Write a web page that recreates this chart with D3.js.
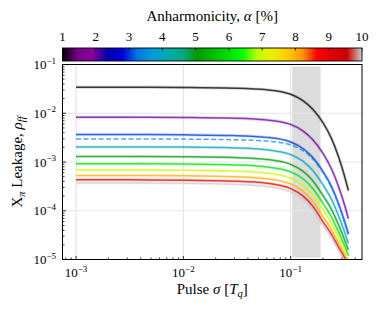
<!DOCTYPE html>
<html><head><meta charset="utf-8">
<script src="https://cdn.jsdelivr.net/npm/d3@7"></script>
<style>
body{margin:0;background:#fff}
svg{display:block}
text{font-family:"Liberation Serif","DejaVu Serif",serif;fill:#000}
</style>
</head><body>
<script>
// ---------------- data ----------------
const sigma   = [0.001, 0.003, 0.01, 0.03, 0.06, 0.1, 0.13, 0.16, 0.2, 0.24, 0.28, 0.32, 0.345];
const alpha1  = [3.43e-2, 3.43e-2, 3.39e-2, 3.27e-2, 3.02e-2, 2.45e-2, 1.82e-2, 1.22e-2, 6.43e-3, 3.05e-3, 1.26e-3, 4.86e-4, 2.60e-4];
const alpha2  = [8.30e-3, 8.30e-3, 8.20e-3, 7.91e-3, 7.29e-3, 5.90e-3, 4.34e-3, 2.90e-3, 1.51e-3, 7.28e-4, 3.10e-4, 1.25e-4, 6.90e-5];
const alpha3  = [3.66e-3, 3.66e-3, 3.61e-3, 3.48e-3, 3.20e-3, 2.58e-3, 1.89e-3, 1.25e-3, 6.43e-4, 3.16e-4, 1.38e-4, 5.82e-5, 3.33e-5];
const measured= [2.98e-3, 2.98e-3, 2.95e-3, 2.86e-3, 2.69e-3, 2.24e-3, 1.71e-3, 1.16e-3, 6.07e-4, 3.01e-4, 1.33e-4, 5.66e-5, 3.26e-5];
const alpha4  = [2.04e-3, 2.04e-3, 2.02e-3, 1.94e-3, 1.78e-3, 1.42e-3, 1.04e-3, 6.78e-4, 3.42e-4, 1.72e-4, 7.83e-5, 3.54e-5, 2.14e-5];
const alpha5  = [1.30e-3, 1.30e-3, 1.28e-3, 1.23e-3, 1.13e-3, 8.94e-4, 6.48e-4, 4.19e-4, 2.07e-4, 1.07e-4, 5.08e-5, 2.46e-5, 1.56e-5];
const alpha6  = [9.20e-4, 9.20e-4, 9.09e-4, 8.71e-4, 7.94e-4, 6.28e-4, 4.53e-4, 2.90e-4, 1.42e-4, 7.45e-5, 3.64e-5, 1.85e-5, 1.21e-5];
const alpha7  = [6.90e-4, 6.90e-4, 6.81e-4, 6.52e-4, 5.94e-4, 4.67e-4, 3.35e-4, 2.13e-4, 1.03e-4, 5.50e-5, 2.76e-5, 1.47e-5, 9.98e-6];
const alpha8  = [5.30e-4, 5.30e-4, 5.23e-4, 4.99e-4, 4.54e-4, 3.56e-4, 2.54e-4, 1.60e-4, 7.67e-5, 4.15e-5, 2.14e-5, 1.19e-5, 8.39e-6];
const alpha9  = [4.30e-4, 4.30e-4, 4.24e-4, 4.04e-4, 3.66e-4, 2.85e-4, 2.02e-4, 1.26e-4, 5.93e-5, 3.28e-5, 1.77e-5, 1.05e-5, 7.82e-6];
const alpha10 = [3.70e-4, 3.70e-4, 3.65e-4, 3.48e-4, 3.15e-4, 2.44e-4, 1.73e-4, 1.07e-4, 5.02e-5, 2.81e-5, 1.53e-5, 9.33e-6, 7.05e-6];

const seriesAlpha  = [1, 2, 3, 3.6, 4, 5, 6, 7, 8, 9, 10];
const seriesValues = [alpha1, alpha2, alpha3, measured, alpha4, alpha5, alpha6, alpha7, alpha8, alpha9, alpha10];
const seriesDashed = [false, false, false, true, false, false, false, false, false, false, false];

const bandSigma   = [0.1035, 0.19];
const xTickExp    = [-3, -2, -1];
const yTickExp    = [-5, -4, -3, -2, -1];
const cbarTicks   = [1, 2, 3, 4, 5, 6, 7, 8, 9, 10];

// nipy_spectral colormap nodes
const cmapColors = ["#000000","#770088","#880099","#0000aa","#0000dd","#0077dd","#0099dd","#00aaaa",
  "#00aa88","#009900","#00bb00","#00dd00","#00ff00","#bbff00","#eeee00","#ffcc00","#ff9900",
  "#ff0000","#dd0000","#cc0000","#cccccc"];

// ---------------- layout ----------------
const W = 380, H = 309;
const L = 62.5, R = 362, T = 64.5, B = 259.5;
const svg = d3.select("body").append("svg").attr("width", W).attr("height", H);

const x = d3.scaleLog().domain([7.47e-4, 0.4624]).range([L, R]);
const y = d3.scaleLog().domain([1e-5, 1e-1]).range([B, T]);
const cmapPos = cmapColors.map((c, i) => 1 + 9 * i / (cmapColors.length - 1));
const color = d3.scaleLinear().domain(cmapPos).range(cmapColors).interpolate(d3.interpolateRgb);

// band
const bh = B - T;
svg.append("rect")
  .attr("x", x(bandSigma[0])).attr("width", x(bandSigma[1]) - x(bandSigma[0]))
  .attr("y", T + 0.01 * bh).attr("height", 0.98 * bh)
  .attr("fill", "#dcdcdc");

// grid
const g = svg.append("g");
xTickExp.forEach(e => g.append("line").attr("x1", x(10 ** e)).attr("x2", x(10 ** e)).attr("y1", T).attr("y2", B)
  .attr("stroke", "#e6e6e6").attr("stroke-width", 1.2));
yTickExp.forEach(e => g.append("line").attr("y1", y(10 ** e)).attr("y2", y(10 ** e)).attr("x1", L).attr("x2", R)
  .attr("stroke", "#e6e6e6").attr("stroke-width", 1.2));

// clip
svg.append("clipPath").attr("id", "clip").append("rect").attr("x", L).attr("y", T).attr("width", R - L).attr("height", B - T);

const line = d3.line().x((d, i) => x(sigma[i])).y(d => y(d)).curve(d3.curveMonotoneX);
const lines = svg.append("g").attr("clip-path", "url(#clip)");
seriesValues.forEach((vals, k) => {
  const c = color(seriesAlpha[k]);
  if (!seriesDashed[k]) {
    lines.append("path").attr("d", line(vals)).attr("fill", "none").attr("stroke", c)
      .attr("stroke-width", 3.2).attr("stroke-opacity", 0.16);
  }
  lines.append("path").attr("d", line(vals)).attr("fill", "none").attr("stroke", c)
    .attr("stroke-width", 1.5).attr("stroke-opacity", 0.74)
    .attr("stroke-dasharray", seriesDashed[k] ? "5,2.5" : null);
});

// frame
svg.append("rect").attr("x", L).attr("y", T).attr("width", R - L).attr("height", B - T)
  .attr("fill", "none").attr("stroke", "#000").attr("stroke-width", 1);

// ticks (inside)
const tk = svg.append("g").attr("stroke", "#000").attr("stroke-width", 0.8);
for (let e = -4; e <= -1; e++) {
  for (let m = 1; m <= 9; m++) {
    const v = m * 10 ** e;
    if (v < 7.47e-4 || v > 0.4624) continue;
    const len = m === 1 ? 3.5 : 2;
    tk.append("line").attr("x1", x(v)).attr("x2", x(v)).attr("y1", B).attr("y2", B - len);
  }
}
for (let e = -5; e <= -1; e++) {
  for (let m = 1; m <= 9; m++) {
    const v = m * 10 ** e;
    if (v > 0.1 + 1e-12) continue;
    const len = m === 1 ? 3.5 : 2;
    tk.append("line").attr("y1", y(v)).attr("y2", y(v)).attr("x1", L).attr("x2", L + len);
  }
}

// tick labels
xTickExp.forEach(e => {
  const t = svg.append("text").attr("x", x(10 ** e)).attr("y", 277).attr("text-anchor", "middle").attr("font-size", 13);
  t.append("tspan").text("10");
  t.append("tspan").attr("dy", -5.5).attr("font-size", 9).text("\u2212" + (-e));
});
yTickExp.forEach(e => {
  const t = svg.append("text").attr("x", 56).attr("y", y(10 ** e) + 4.5).attr("text-anchor", "end").attr("font-size", 13);
  t.append("tspan").text("10");
  t.append("tspan").attr("dy", -5.5).attr("font-size", 9).text("\u2212" + (-e));
});

// axis labels
const xl = svg.append("text").attr("x", (L + R) / 2).attr("y", 294).attr("text-anchor", "middle").attr("font-size", 15);
xl.append("tspan").text("Pulse ");
xl.append("tspan").attr("font-style", "italic").text("\u03C3");
xl.append("tspan").text(" [");
xl.append("tspan").attr("font-style", "italic").text("T");
xl.append("tspan").attr("font-style", "italic").attr("font-size", 10.5).attr("dy", 3).text("q");
xl.append("tspan").attr("dy", -3).text("]");

const yl = svg.append("text").attr("transform", `translate(22,${(T + B) / 2}) rotate(-90)`)
  .attr("text-anchor", "middle").attr("font-size", 15);
yl.append("tspan").text("X");
yl.append("tspan").attr("font-style", "italic").attr("font-size", 10.5).attr("dy", 3).text("\u03C0");
yl.append("tspan").attr("dy", -3).text(" Leakage, ");
yl.append("tspan").attr("font-style", "italic").text("\u03C1");
yl.append("tspan").attr("font-style", "italic").attr("font-size", 10.5).attr("dy", 3).text("ff");

// colorbar
const cb = { x0: L, x1: R, y0: 48, y1: 61 };
const cx = d3.scaleLinear().domain([1, 10]).range([cb.x0, cb.x1]);
const defs = svg.append("defs");
const grad = defs.append("linearGradient").attr("id", "cmap").attr("x1", "0%").attr("x2", "100%");
cmapColors.forEach((c, i) => grad.append("stop").attr("offset", (100 * i / (cmapColors.length - 1)) + "%").attr("stop-color", c));
svg.append("rect").attr("x", cb.x0).attr("y", cb.y0).attr("width", cb.x1 - cb.x0).attr("height", cb.y1 - cb.y0)
  .attr("fill", "url(#cmap)").attr("stroke", "#000").attr("stroke-width", 0.9);
cbarTicks.forEach(v => {
  svg.append("line").attr("x1", cx(v)).attr("x2", cx(v)).attr("y1", cb.y0).attr("y2", cb.y0 + 2.5)
    .attr("stroke", "#000").attr("stroke-width", 0.8);
  svg.append("text").attr("x", cx(v)).attr("y", 41).attr("text-anchor", "middle").attr("font-size", 13).text(v);
});
const ct = svg.append("text").attr("x", (L + R) / 2).attr("y", 21).attr("text-anchor", "middle").attr("font-size", 15);
ct.append("tspan").text("Anharmonicity, ");
ct.append("tspan").attr("font-style", "italic").text("\u03B1");
ct.append("tspan").text(" [%]");
</script>
</body></html>
